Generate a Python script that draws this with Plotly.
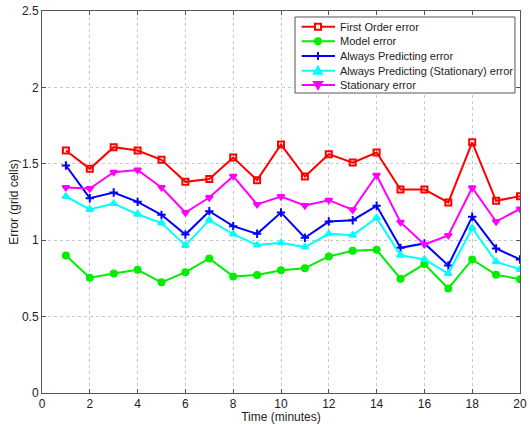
import plotly.graph_objects as go

time_min = list(range(1, 21))
first_order = [1.587, 1.467, 1.609, 1.587, 1.526, 1.382, 1.401, 1.541, 1.393, 1.626,
               1.417, 1.563, 1.508, 1.574, 1.332, 1.332, 1.247, 1.641, 1.258, 1.288]
model = [0.900, 0.754, 0.782, 0.806, 0.724, 0.791, 0.881, 0.763, 0.772, 0.804,
         0.817, 0.894, 0.931, 0.937, 0.748, 0.844, 0.684, 0.874, 0.774, 0.745]
always_pred = [1.489, 1.275, 1.312, 1.251, 1.166, 1.037, 1.190, 1.092, 1.042, 1.181,
               1.016, 1.122, 1.131, 1.225, 0.950, 0.979, 0.835, 1.153, 0.946, 0.874]
always_pred_stat = [1.286, 1.201, 1.240, 1.170, 1.112, 0.966, 1.131, 1.040, 0.968, 0.983,
                    0.955, 1.042, 1.033, 1.146, 0.902, 0.874, 0.782, 1.079, 0.859, 0.809]
stationary = [1.345, 1.338, 1.445, 1.460, 1.345, 1.181, 1.279, 1.419, 1.234, 1.286,
              1.227, 1.262, 1.199, 1.425, 1.118, 0.972, 1.031, 1.343, 1.122, 1.205]

names = ["First Order error", "Model error", "Always Predicting error",
         "Always Predicting (Stationary) error", "Stationary error"]
values = [first_order, model, always_pred, always_pred_stat, stationary]
colors = ["#ff0000", "#00ee00", "#0000ff", "#00ffff", "#ff00ff"]
symbols = ["square-open", "circle", "cross-thin-open", "triangle-up", "triangle-down"]

fig = go.Figure()
for name, vals, col, sym in zip(names, values, colors, symbols):
    fig.add_trace(go.Scatter(
        x=time_min, y=vals, name=name, mode="lines+markers", showlegend=False,
        line=dict(color=col, width=2),
        marker=dict(symbol=sym, size=6, color=col, line=dict(color=col, width=2)),
    ))

font = "Liberation Sans, Arial, sans-serif"
txt = "#222222"
axis_common = dict(
    showline=True, linecolor="#555555", linewidth=1, mirror="ticks",
    ticks="inside", ticklen=4, tickcolor="#555555",
    showgrid=True, gridcolor="#c8c8c8", griddash="dot", gridwidth=1,
    zeroline=False, tickfont=dict(family=font, size=12, color=txt),
    automargin=False,
)
fig.update_xaxes(range=[0, 20], dtick=2, tick0=0,
                 title=dict(text="Time (minutes)", font=dict(family=font, size=12, color=txt), standoff=3),
                 **axis_common)
fig.update_yaxes(range=[0, 2.5], dtick=0.5, tick0=0,
                 title=dict(text="Error (grid cells)", font=dict(family=font, size=12, color=txt), standoff=0),
                 **axis_common)

# Compact MATLAB-style legend box (paper coordinates of the plot area)
lg_x0, lg_x1, lg_y0, lg_y1 = 0.5293, 0.9895, 0.7853, 0.9843
ln_x0, ln_x1, mk_x, tx_x = 0.5433, 0.6130, 0.5774, 0.6192
row_y = [0.9589, 0.9207, 0.8822, 0.8437, 0.8063]

shapes = [dict(type="rect", xref="paper", yref="paper", x0=lg_x0, x1=lg_x1, y0=lg_y0, y1=lg_y1,
               line=dict(color="#555555", width=1), fillcolor="white", layer="above")]
annotations = []
marker_paths = {
    "square-open": dict(type="rect", x0=-3, x1=3, y0=-3, y1=3, fill="white"),
    "circle": dict(type="circle", x0=-3, x1=3, y0=-3, y1=3, fill=None),
    "cross-thin-open": dict(type="path", path="M-4,0 L4,0 M0,-4 L0,4", fill="rgba(0,0,0,0)"),
    "triangle-up": dict(type="path", path="M-4,-3 L4,-3 L0,4 Z", fill=None),
    "triangle-down": dict(type="path", path="M-4,3 L4,3 L0,-4 Z", fill=None),
}
for name, col, sym, ry in zip(names, colors, symbols, row_y):
    shapes.append(dict(type="line", xref="paper", yref="paper", x0=ln_x0, x1=ln_x1, y0=ry, y1=ry,
                       line=dict(color=col, width=2), layer="above"))
    mp = marker_paths[sym]
    s = dict(xref="paper", yref="paper", xsizemode="pixel", ysizemode="pixel",
             xanchor=mk_x, yanchor=ry, type=mp["type"], layer="above",
             line=dict(color=col, width=2),
             fillcolor=mp["fill"] if mp["fill"] else col)
    if mp["type"] == "path":
        s["path"] = mp["path"]
    else:
        s.update(x0=mp["x0"], x1=mp["x1"], y0=mp["y0"], y1=mp["y1"])
    shapes.append(s)
    annotations.append(dict(xref="paper", yref="paper", x=tx_x, y=ry, text=name, showarrow=False,
                            xanchor="left", yanchor="middle", font=dict(family=font, size=11, color=txt)))

fig.update_layout(
    width=530, height=424,
    margin=dict(l=42, r=10, t=11, b=31),
    paper_bgcolor="white", plot_bgcolor="white",
    font=dict(family=font, size=12, color=txt),
    showlegend=False,
    shapes=shapes, annotations=annotations,
)

fig.write_html("out.html", config={"displayModeBar": False},
               post_script="document.body.style.margin='0px';")
